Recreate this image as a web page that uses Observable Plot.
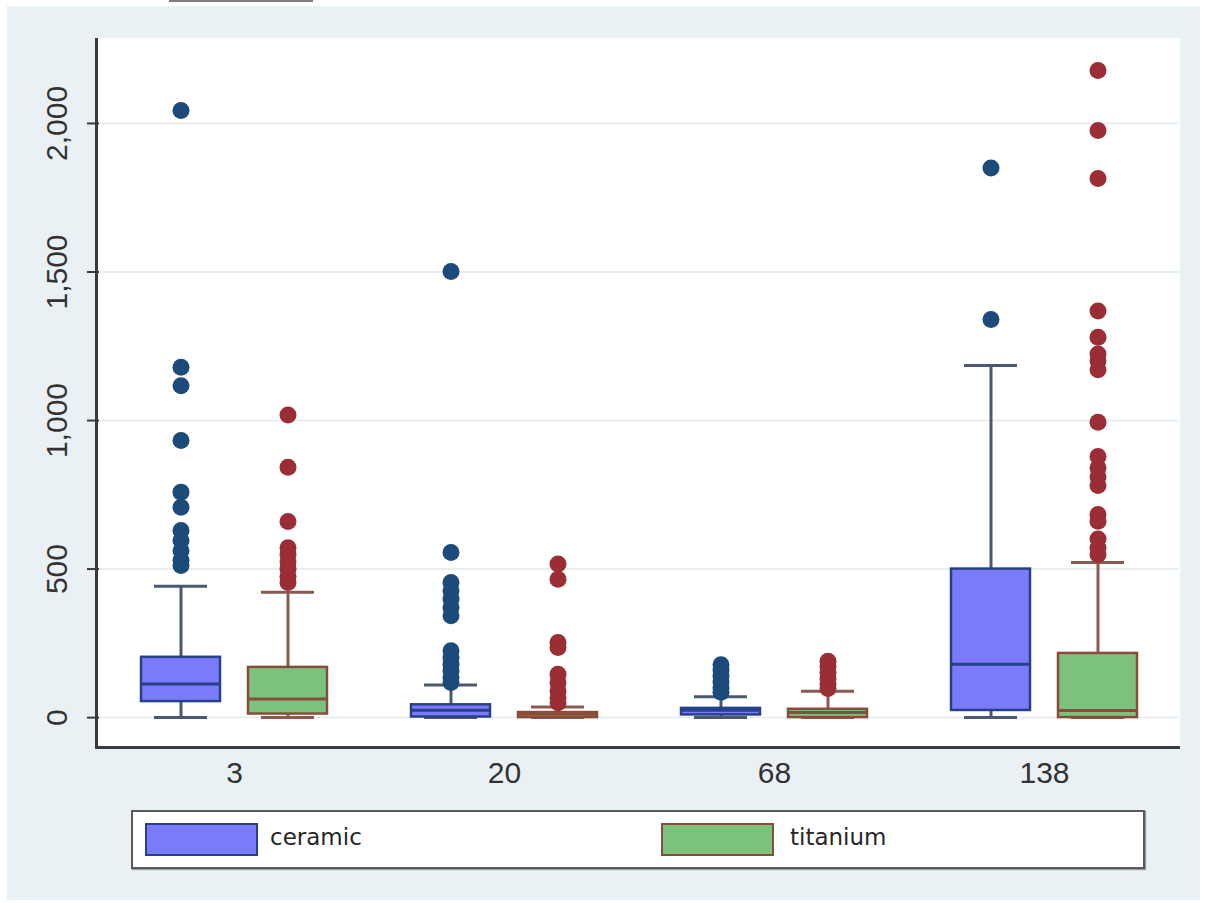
<!DOCTYPE html>
<html>
<head>
<meta charset="utf-8">
<script src="https://cdn.jsdelivr.net/npm/d3@7"></script>
<script src="https://cdn.jsdelivr.net/npm/@observablehq/plot@0.6"></script>
<style>
  html, body { margin: 0; padding: 0; background: #ffffff; }
  body { width: 1205px; height: 903px; position: relative; overflow: hidden; }
  #bg { position: absolute; left: 7px; top: 6px; width: 1193px; height: 894px; background: #eaf1f4; }
  #plotbg { position: absolute; left: 95px; top: 38px; width: 1082px; height: 708px; background: #ffffff;
            border-left: 3px solid #3a3a3a; border-bottom: 3px solid #3a3a3a; box-sizing: content-box; }
  #topline { position: absolute; left: 169px; top: 0px; width: 144px; height: 2px; background: #7d7d7d; }
  #chart { position: absolute; left: 0; top: 0; }
  #legend { position: absolute; left: 131px; top: 810px; width: 1010px; height: 55px; background: #ffffff;
            border: 2px solid #5a5a5a; box-shadow: 1px 1px 1px #9a9a9a; font-family: "DejaVu Sans", sans-serif; }
  .sw { position: absolute; top: 11px; width: 109px; height: 29px; }
  .lab { position: absolute; top: 10px; font-size: 23px; color: #262626; line-height: 30px; }
</style>
</head>
<body>
<div id="bg"></div>
<div id="plotbg"></div>
<div id="topline"></div>
<div id="chart"></div>
<div id="legend">
  <div class="sw" style="left:12px; background:#7b7bf9; border:2px solid #27408c;"></div>
  <div class="lab" style="left:137px;">ceramic</div>
  <div class="sw" style="left:528px; background:#7cc27c; border:2px solid #8a4c3a;"></div>
  <div class="lab" style="left:657px;">titanium</div>
</div>
<script>
// ---- data ----
const groups = ["3", "20", "68", "138"];
const seriesNames = ["ceramic", "titanium"];
const yTicks = [0, 500, 1000, 1500, 2000];

const ceramicLow    = [0, 0, 0, 0];
const ceramicQ1     = [54, 2, 9, 24];
const ceramicMedian = [113, 25, 25, 180];
const ceramicQ3     = [203, 43, 31, 500];
const ceramicHigh   = [442, 110, 70, 1185];

const titaniumLow    = [0, 0, 0, 0];
const titaniumQ1     = [12, 0, 0, 0];
const titaniumMedian = [63, 11, 17, 24];
const titaniumQ3     = [169, 17, 28, 216];
const titaniumHigh   = [422, 36, 89, 522];

const ceramicOutliers = [
  [2044, 1179, 1117, 933, 759, 708, 630, 596, 562, 530, 512],
  [1502, 556, 455, 427, 399, 371, 343, 225, 202, 180, 157, 135, 118],
  [178, 160, 140, 120, 100, 85],
  [1850, 1340]
];
const titaniumOutliers = [
  [1019, 843, 660, 572, 550, 525, 500, 475, 455],
  [517, 466, 253, 236, 146, 118, 90, 67, 50],
  [190, 172, 152, 132, 112, 98],
  [2178, 1976, 1815, 1369, 1280, 1224, 1201, 1171, 994, 879, 841, 811, 781, 684, 661, 601, 571, 549]
];

// ---- tables built from the arrays ----
const stats = {
  ceramic: {lo: ceramicLow, q1: ceramicQ1, med: ceramicMedian, q3: ceramicQ3, hi: ceramicHigh, out: ceramicOutliers},
  titanium: {lo: titaniumLow, q1: titaniumQ1, med: titaniumMedian, q3: titaniumQ3, hi: titaniumHigh, out: titaniumOutliers}
};
const summary = seriesNames.flatMap(s => groups.map((g, i) => ({
  group: g, series: s, lo: stats[s].lo[i], q1: stats[s].q1[i], med: stats[s].med[i], q3: stats[s].q3[i], hi: stats[s].hi[i]
})));
const outliers = seriesNames.flatMap(s => groups.flatMap((g, i) => stats[s].out[i].map(v => ({group: g, series: s, value: v}))));

const styles = {
  ceramic:  {fill: "#7b7bf9", stroke: "#27408c", whisker: "#4a5870", dot: "#1b4a7b"},
  titanium: {fill: "#7cc27c", stroke: "#8a4c3a", whisker: "#8a5a50", dot: "#9b2d35"}
};

function seriesMarks(name) {
  const st = styles[name];
  const s = summary.filter(d => d.series === name);
  const o = outliers.filter(d => d.series === name);
  const base = {fx: "group", x: "series"};
  return [
    Plot.ruleX(s, {...base, y1: "q3", y2: "hi", stroke: st.whisker, strokeWidth: 3}),
    Plot.ruleX(s, {...base, y1: "lo", y2: "q1", stroke: st.whisker, strokeWidth: 3}),
    Plot.tickY(s, {...base, y: "hi", stroke: st.whisker, strokeWidth: 3, insetLeft: 13, insetRight: 13}),
    Plot.tickY(s, {...base, y: "lo", stroke: st.whisker, strokeWidth: 3, insetLeft: 13, insetRight: 13}),
    Plot.barY(s, {...base, y1: "q1", y2: "q3", fill: st.fill, stroke: st.stroke, strokeWidth: 2.5}),
    Plot.tickY(s, {...base, y: "med", stroke: st.stroke, strokeWidth: 3}),
    Plot.dot(o, {...base, y: "value", r: 8.5, fill: st.dot, stroke: "none"})
  ];
}

const fmt = d3.format(",");

const chart = Plot.plot({
  width: 1205,
  height: 800,
  marginLeft: 97,
  marginRight: 25,
  marginTop: 38,
  marginBottom: 52,
  style: {background: "transparent", fontFamily: "'Liberation Sans', Arial, sans-serif", overflow: "visible"},
  fx: {domain: groups, padding: 0, label: null},
  x: {domain: seriesNames, paddingInner: 0.259, paddingOuter: 0.383, axis: null},
  y: {domain: [-104, 2286], label: null},
  marks: [
    Plot.gridY(yTicks, {stroke: "#e3e9ed", strokeOpacity: 1, strokeWidth: 1.5}),
    ...seriesMarks("ceramic"),
    ...seriesMarks("titanium"),
    Plot.axisY(yTicks, {tickFormat: fmt, tickSize: 12, tickPadding: 21, tickRotate: -90, fontSize: 30,
                        label: null, stroke: "#3a3a3a", strokeWidth: 2, color: "#333"}),
    Plot.axisFx({anchor: "bottom", tickSize: 0, tickPadding: 13, fontSize: 30, label: null, color: "#333"})
  ]
});
document.getElementById("chart").appendChild(chart);
</script>
</body>
</html>
